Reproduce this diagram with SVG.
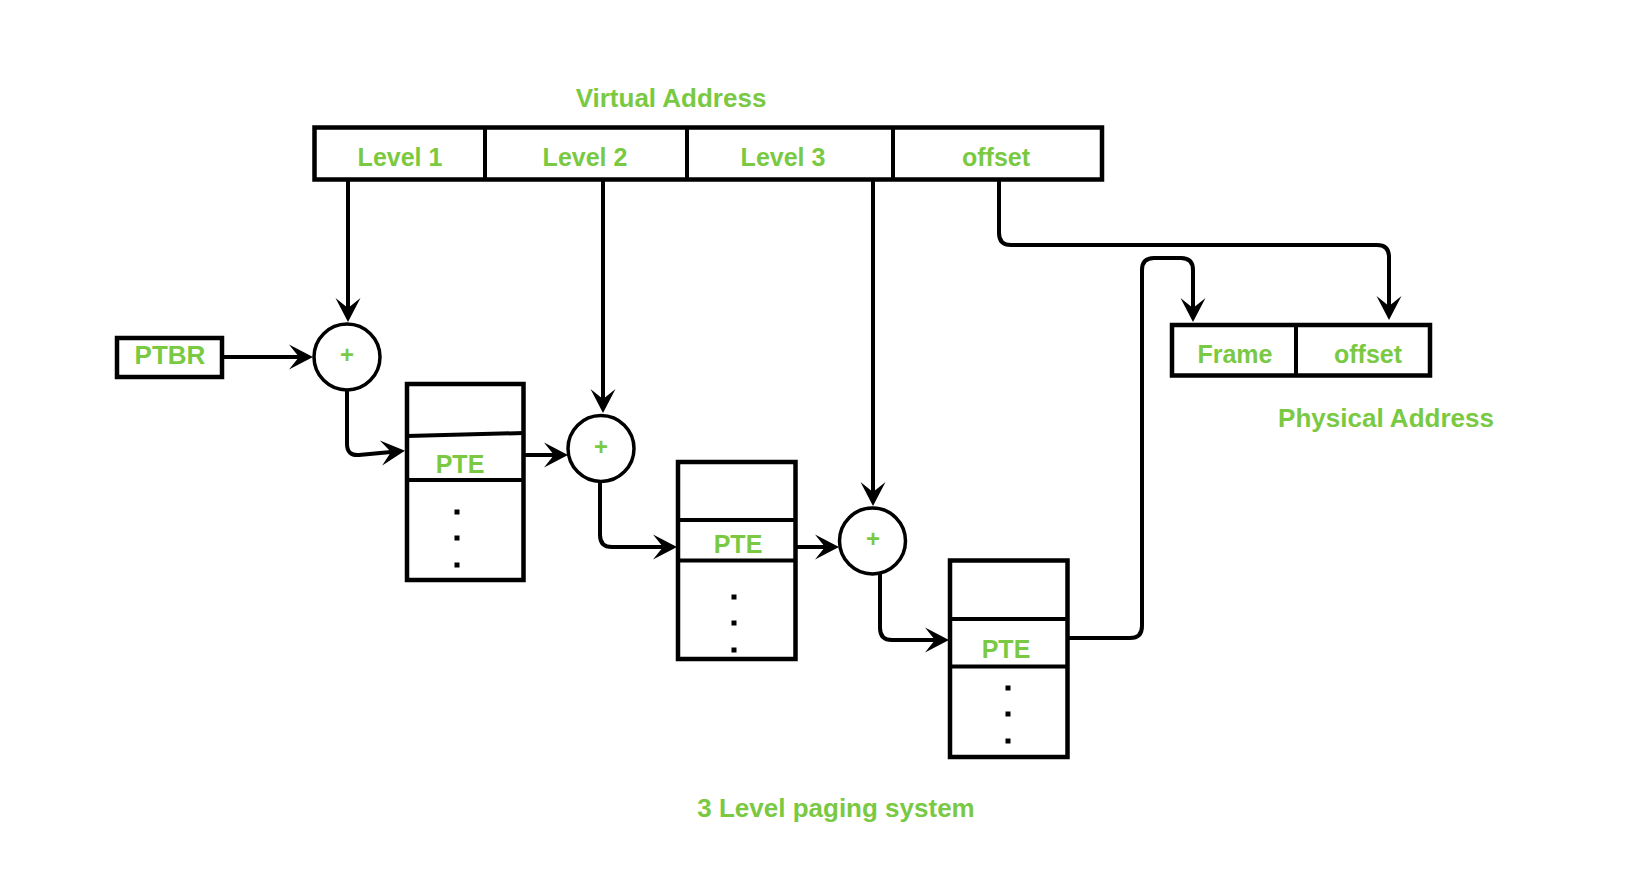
<svg xmlns="http://www.w3.org/2000/svg" width="1650" height="884" viewBox="0 0 1650 884">
<style>
.box{fill:#fff;stroke:#000;stroke-width:4.5}
.ln{fill:none;stroke:#000;stroke-width:4}
.cir{fill:#fff;stroke:#000;stroke-width:3.5}
.conn{fill:none;stroke:#000;stroke-width:4;marker-end:url(#arr)}
.t{font-family:"Liberation Sans",Arial,sans-serif;font-weight:bold;fill:#7AC943;text-anchor:middle}
.s25{font-size:25px}
.s26{font-size:26px}
.plus{font-size:24px}
.dot{fill:#000}
</style>
<defs>
<marker id="arr" markerUnits="userSpaceOnUse" orient="auto" refX="0" refY="0" viewBox="-12 -14 30 28" markerWidth="30" markerHeight="28">
<path d="M14,0 L-10,-12.5 L0,0 L-10,12.5 Z" fill="#000"/>
</marker>
</defs>
<rect width="1650" height="884" fill="#fff"/>
<text class="t s26" x="671" y="107">Virtual Address</text>
<text class="t s26" x="1386" y="427">Physical Address</text>
<text class="t s26" x="836" y="817">3 Level paging system</text>
<g id="connectors">
<path class="conn" d="M348,180 V308"/>
<path class="conn" d="M603,180 V399"/>
<path class="conn" d="M873,180 V492"/>
<path class="conn" d="M224,357 H299"/>
<path class="conn" d="M347,390 V444 Q347,456 359,455 L391,452"/>
<path class="conn" d="M525,455 H554"/>
<path class="conn" d="M600,482 V535 Q600,547 612,547 H663"/>
<path class="conn" d="M796,547 H825"/>
<path class="conn" d="M880,574 V628 Q880,640 892,640 H935"/>
<path class="conn" d="M999,180 V233 Q999,245 1011,245 H1377 Q1389,245 1389,257 V306"/>
<path class="conn" d="M1068,638 H1130 Q1142,638 1142,626 V270 Q1142,258 1154,258 H1181 Q1193,258 1193,270 V308"/>
</g>
<g id="virtual-address">
<rect class="box" x="314.5" y="127.5" width="787.5" height="52"/>
<line class="ln" x1="485" y1="127.5" x2="485" y2="179.5"/>
<line class="ln" x1="687" y1="127.5" x2="687" y2="179.5"/>
<line class="ln" x1="893" y1="127.5" x2="893" y2="179.5"/>
<text class="t s25" x="400" y="166">Level 1</text>
<text class="t s25" x="585" y="166">Level 2</text>
<text class="t s25" x="783" y="166">Level 3</text>
<text class="t s25" x="996" y="166">offset</text>
</g>
<g id="physical-address">
<rect class="box" x="1172" y="325" width="258" height="50.5"/>
<line class="ln" x1="1296" y1="325" x2="1296" y2="375.5"/>
<text class="t s25" x="1235" y="363">Frame</text>
<text class="t s25" x="1368" y="363">offset</text>
</g>
<g id="ptbr">
<rect class="box" x="117" y="338" width="105" height="39"/>
<text class="t s26" x="170" y="364">PTBR</text>
</g>
<g id="adder1">
<circle class="cir" cx="347" cy="357" r="33"/>
<text class="t plus" x="347" y="363">+</text>
</g>
<g id="adder2">
<circle class="cir" cx="601" cy="448.5" r="33"/>
<text class="t plus" x="601" y="455">+</text>
</g>
<g id="adder3">
<circle class="cir" cx="872.5" cy="541" r="33"/>
<text class="t plus" x="873" y="547">+</text>
</g>
<g id="table1">
<rect class="box" x="407" y="384" width="116.5" height="196"/>
<line class="ln" x1="407" y1="436" x2="523.5" y2="433"/>
<line class="ln" x1="407" y1="480" x2="523.5" y2="480"/>
<text class="t s25" x="460" y="473">PTE</text>
<rect class="dot" x="454.5" y="509.5" width="5" height="5"/>
<rect class="dot" x="454.5" y="535.5" width="5" height="5"/>
<rect class="dot" x="454.5" y="562.5" width="5" height="5"/>
</g>
<g id="table2">
<rect class="box" x="678" y="462" width="117.5" height="197"/>
<line class="ln" x1="678" y1="520" x2="795.5" y2="520"/>
<line class="ln" x1="678" y1="560.5" x2="795.5" y2="560.5"/>
<text class="t s25" x="738" y="553">PTE</text>
<rect class="dot" x="731.5" y="594.5" width="5" height="5"/>
<rect class="dot" x="731.5" y="620.5" width="5" height="5"/>
<rect class="dot" x="731.5" y="647.5" width="5" height="5"/>
</g>
<g id="table3">
<rect class="box" x="950" y="560.5" width="117.5" height="196.5"/>
<line class="ln" x1="950" y1="619" x2="1067.5" y2="619"/>
<line class="ln" x1="950" y1="666.5" x2="1067.5" y2="666.5"/>
<text class="t s25" x="1006" y="658">PTE</text>
<rect class="dot" x="1005.5" y="685.5" width="5" height="5"/>
<rect class="dot" x="1005.5" y="711.5" width="5" height="5"/>
<rect class="dot" x="1005.5" y="738.5" width="5" height="5"/>
</g>
</svg>
